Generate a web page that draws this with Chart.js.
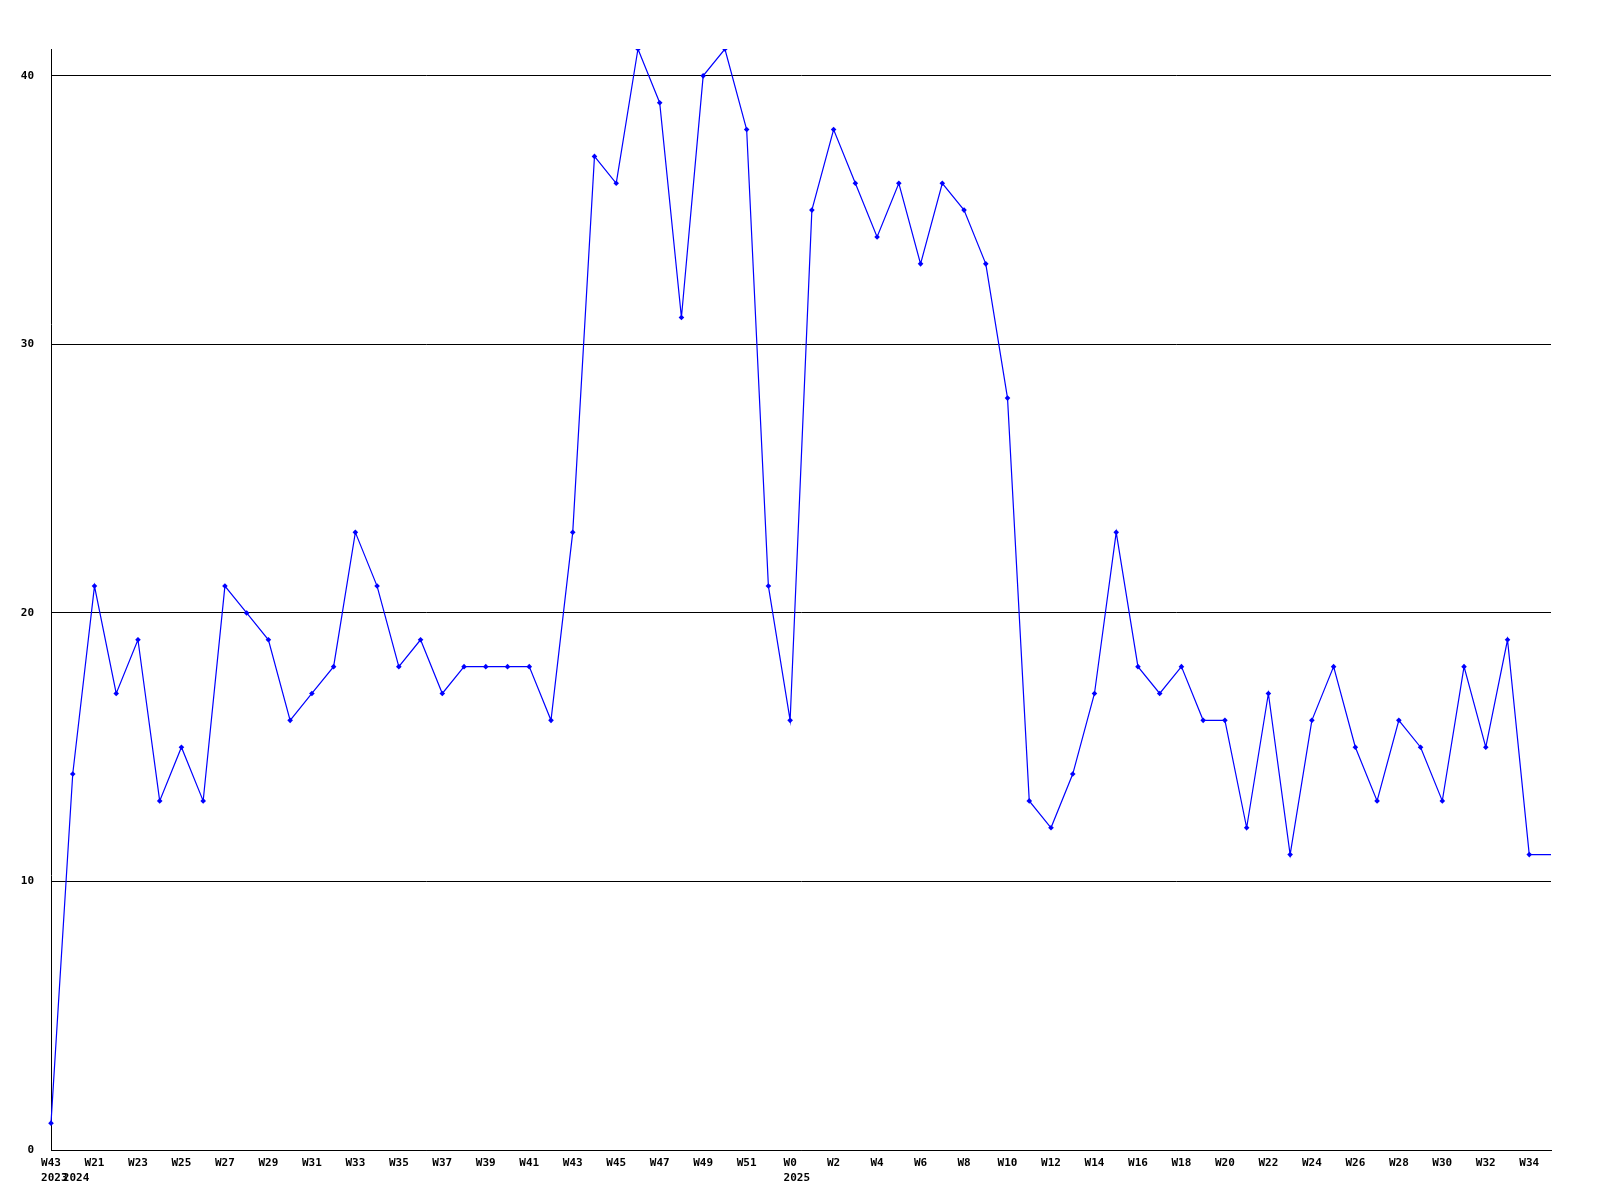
<!DOCTYPE html>
<html>
<head>
    <title>Weekly chart</title>
    <script src="https://cdn.jsdelivr.net/npm/chart.js"></script>
    <style>
        body { margin: 0; background: #fff; }
        #wrap { width: 1600px; height: 1200px; }
    </style>
</head>
<body>
    <div id="wrap"><canvas id="myChart" width="1600" height="1200"></canvas></div>
    <script>
        // Semanas y años de cada punto
        const weeks = ['W43',
            'W20','W21','W22','W23','W24','W25','W26','W27','W28','W29','W30','W31','W32','W33','W34','W35','W36','W37','W38','W39','W40','W41','W42','W43','W44','W45','W46','W47','W48','W49','W50','W51','W52',
            'W0','W1','W2','W3','W4','W5','W6','W7','W8','W9','W10','W11','W12','W13','W14','W15','W16','W17','W18','W19','W20','W21','W22','W23','W24','W25','W26','W27','W28','W29','W30','W31','W32','W33','W34','W35'];
        const years = ['2023',
            '2024','2024','2024','2024','2024','2024','2024','2024','2024','2024','2024','2024','2024','2024','2024','2024','2024','2024','2024','2024','2024','2024','2024','2024','2024','2024','2024','2024','2024','2024','2024','2024','2024',
            '2025','2025','2025','2025','2025','2025','2025','2025','2025','2025','2025','2025','2025','2025','2025','2025','2025','2025','2025','2025','2025','2025','2025','2025','2025','2025','2025','2025','2025','2025','2025','2025','2025','2025','2025','2025'];
        const values = [1,
            14,21,17,19,13,15,13,21,20,19,16,17,18,23,21,18,19,17,18,18,18,18,16,23,37,36,41,39,31,40,41,38,21,
            16,35,38,36,34,36,33,36,35,33,28,13,12,14,17,23,18,17,18,16,16,12,17,11,16,18,15,13,16,15,13,18,15,19,11,11];
        const yTicks = [0, 10, 20, 30, 40];

        const FONT = { family: 'DejaVu Sans Mono', size: 11, weight: 'bold' };

        // Dibuja el año debajo de la primera semana de cada año
        const yearLabels = {
            id: 'yearLabels',
            afterDraw(chart) {
                const ctx = chart.ctx;
                const xs = chart.scales.x;
                ctx.save();
                ctx.font = 'bold 11px "DejaVu Sans Mono"';
                ctx.fillStyle = '#000';
                ctx.textBaseline = 'middle';
                ctx.textAlign = 'left';
                for (let i = 0; i < years.length; i++) {
                    if (i === 0 || years[i] !== years[i - 1]) {
                        const px = xs.getPixelForValue(i);
                        const w = ctx.measureText(weeks[i]).width;
                        ctx.fillText(years[i], px - w / 2, xs.bottom - 22);
                    }
                }
                ctx.restore();
            }
        };

        const ctx = document.getElementById('myChart').getContext('2d');
        const myChart = new Chart(ctx, {
            type: 'line',
            data: {
                labels: weeks,
                datasets: [{
                    data: values,
                    borderColor: '#0000ff',
                    backgroundColor: '#0000ff',
                    borderWidth: 1.2,
                    tension: 0,
                    pointStyle: 'rectRot',
                    pointRadius: values.map((v, i) => i === values.length - 1 ? 0 : 2.8),
                    pointBorderWidth: 0,
                    fill: false
                }]
            },
            options: {
                responsive: false,
                animation: false,
                layout: { padding: { left: 0, right: 49, top: 49, bottom: 0 } },
                plugins: {
                    legend: { display: false },
                    tooltip: { enabled: false }
                },
                scales: {
                    x: {
                        type: 'category',
                        offset: false,
                        afterFit: s => { s.height = 50; },
                        grid: { display: false, drawTicks: false },
                        border: { display: true, color: '#000', width: 1 },
                        ticks: {
                            autoSkip: false,
                            maxRotation: 0,
                            minRotation: 0,
                            padding: 7,
                            color: '#000',
                            font: FONT,
                            callback: function (val, i) { return i % 2 === 0 ? weeks[i] : ''; }
                        }
                    },
                    y: {
                        min: 0,
                        max: 41,
                        afterFit: s => { s.width = 51; },
                        afterBuildTicks: s => { s.ticks = yTicks.map(v => ({ value: v })); },
                        grid: { color: '#000', lineWidth: 1, drawTicks: false },
                        border: { display: true, color: '#000', width: 1 },
                        ticks: {
                            padding: 17,
                            color: '#000',
                            font: FONT
                        }
                    }
                }
            },
            plugins: [yearLabels]
        });
    </script>
</body>
</html>
